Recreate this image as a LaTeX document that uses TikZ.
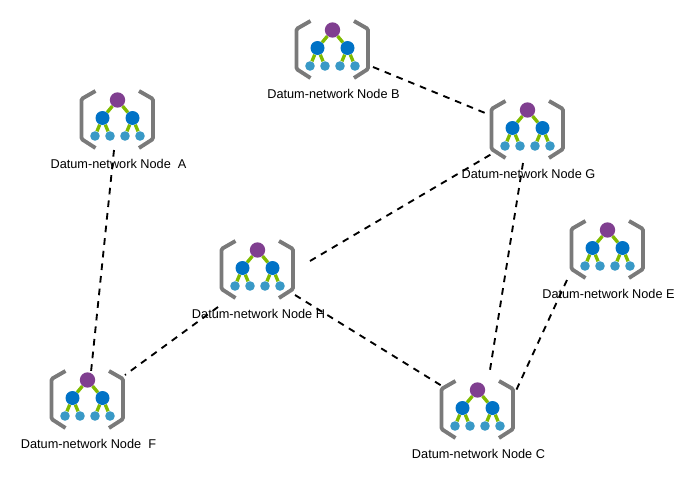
\documentclass[tikz,border=0pt]{standalone}
\usepackage{fontspec}
\setmainfont{Liberation Sans}
\usetikzlibrary{positioning,arrows.meta,calc}
\definecolor{BracketGray}{RGB}{122,122,122}
\definecolor{RootPurple}{RGB}{128,63,144}
\definecolor{MidBlue}{RGB}{0,114,198}
\definecolor{LeafBlue}{RGB}{57,153,198}
\definecolor{StemGreen}{RGB}{127,186,0}
\tikzset{
  bracket/.style={draw=BracketGray, line width=2.9pt, rounded corners=1pt},
  stem/.style={draw=StemGreen, line width=2.5pt},
  rootdot/.style={circle, fill=RootPurple, minimum size=11.5pt, inner sep=0pt},
  middot/.style={circle, fill=MidBlue, minimum size=10.5pt, inner sep=0pt},
  leafdot/.style={circle, fill=LeafBlue, minimum size=7.2pt, inner sep=0pt},
  iconbox/.style={minimum width=55.5pt, minimum height=43.5pt, inner sep=0pt},
  nodelabel/.style={font=\fontsize{9.55pt}{11pt}\selectfont, inner sep=0pt},
  dashlink/.style={draw=black, line width=1.4pt, dash pattern=on 5pt off 4.5pt},
  datumicon/.pic={
    \node[iconbox] (-box) at (0,19) {};
    \draw[bracket] (-21.5,-9) -- (-35.5,-1) -- (-35.5,39) -- (-21.5,48);
    \draw[bracket] (22,-9) -- (36,-1) -- (36,39) -- (22,48);
    \node[rootdot] (-root) at (0.5,0) {};
    \node[middot] (-midl) at (-14.5,18) {};
    \node[middot] (-midr) at (15.5,18) {};
    \node[leafdot] (-leafa) at (-22,36) {};
    \node[leafdot] (-leafb) at (-7,36) {};
    \node[leafdot] (-leafc) at (8,36) {};
    \node[leafdot] (-leafd) at (23,36) {};
    \draw[stem] (-root) -- (-midl);
    \draw[stem] (-root) -- (-midr);
    \draw[stem] (-midl) -- (-leafa);
    \draw[stem] (-midl) -- (-leafb);
    \draw[stem] (-midr) -- (-leafc);
    \draw[stem] (-midr) -- (-leafd);
    \node[nodelabel] (-text) at (1.5,63.5) {#1};
  }
}

\begin{document}
\begin{tikzpicture}[x=0.75pt, y=-0.75pt]
  \useasboundingbox (0,0) rectangle (694,482);

  \pic (nodeA) at (117,100) {datumicon={Datum-network Node\ \ A}};
  \pic (nodeB) at (332,30) {datumicon={Datum-network Node B}};
  \pic (nodeG) at (527,110) {datumicon={Datum-network Node G}};
  \pic (nodeE) at (607,230) {datumicon={Datum-network Node E}};
  \pic (nodeH) at (257,250) {datumicon={Datum-network Node H}};
  \pic (nodeF) at (87,380) {datumicon={Datum-network Node\ \ F}};
  \pic (nodeC) at (477,390) {datumicon={Datum-network Node C}};

  \draw[dashlink] ([shift={(-3,31)}]nodeA-box.center) -- ([shift={(4,-27)}]nodeF-box.center);
  \draw[dashlink] ([shift={(-39,38)}]nodeH-box.center) -- ([shift={(38,-24)}]nodeF-box.center);
  \draw[dashlink] ([shift={(53,-8)}]nodeH-box.center) -- ([shift={(-32,23)}]nodeG-box.center);
  \draw[dashlink] ([shift={(38,26)}]nodeH-box.center) -- ([shift={(-35,-23)}]nodeC-box.center);
  \draw[dashlink] ([shift={(41,18)}]nodeB-box.center) -- ([shift={(-37,-14)}]nodeG-box.center);
  \draw[dashlink] ([shift={(-4,34)}]nodeG-box.center) -- ([shift={(13,-39)}]nodeC-box.center);
  \draw[dashlink] ([shift={(-40,31)}]nodeE-box.center) -- ([shift={(37,-14)}]nodeC-box.center);
\end{tikzpicture}
\end{document}
